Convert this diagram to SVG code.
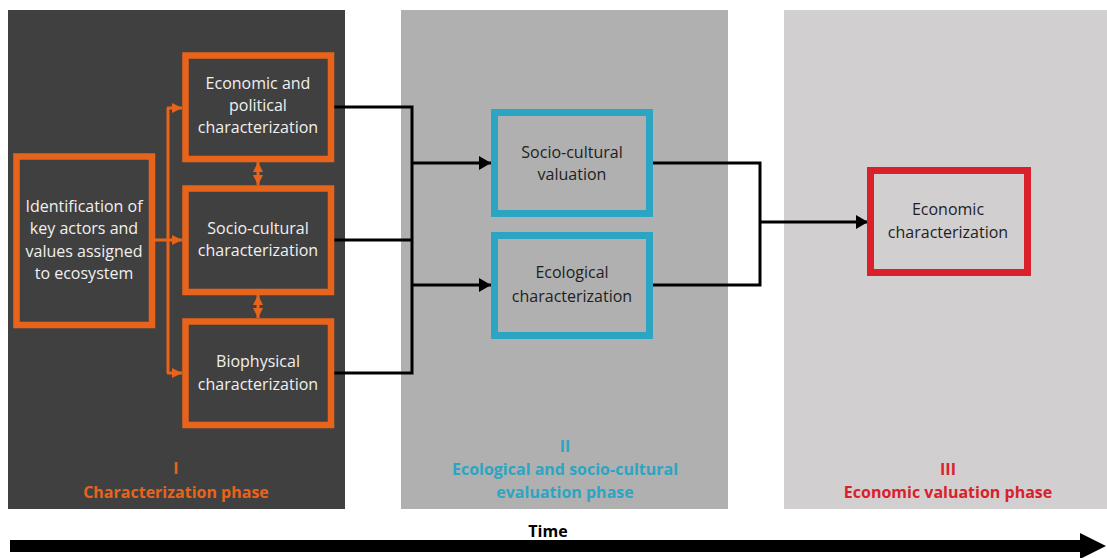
<svg xmlns="http://www.w3.org/2000/svg" width="1107" height="558" viewBox="0 0 1107 558">
  <defs>
    <style>
      .lbl { font-family: "Open Sans", "Liberation Sans", sans-serif; font-size: 16px; text-anchor: middle; }
      .light { fill: #f0f0f0; }
      .dark { fill: #1e1e1e; }
      .phase { font-family: "Open Sans", "Liberation Sans", sans-serif; font-size: 16px; font-weight: bold; text-anchor: middle; }
      .orange-box { fill: none; stroke: #E8641B; stroke-width: 6.5; }
      .blue-box { fill: none; stroke: #2CA5C3; stroke-width: 7; }
      .red-box { fill: none; stroke: #DA202B; stroke-width: 7; }
      .olink { fill: none; stroke: #E8641B; stroke-width: 3; }
      .blink { fill: none; stroke: #000; stroke-width: 3; }
    </style>
    <marker id="oarrow" viewBox="0 0 10 10" refX="10" refY="5" markerWidth="10" markerHeight="10" markerUnits="userSpaceOnUse" orient="auto-start-reverse">
      <path d="M0,0 L10,5 L0,10 z" fill="#E8641B"/>
    </marker>
    <marker id="barrow" viewBox="0 0 12 14" refX="12" refY="7" markerWidth="12" markerHeight="14" markerUnits="userSpaceOnUse" orient="auto">
      <path d="M0,0 L12,7 L0,14 z" fill="#000"/>
    </marker>
  </defs>

  <rect width="1107" height="558" fill="#ffffff"/>

  <!-- phase panels -->
  <g id="panels">
    <rect x="8" y="10" width="337" height="499" fill="#404040"/>
    <rect x="401" y="10" width="327" height="499" fill="#B0B0B0"/>
    <rect x="784" y="10" width="323" height="499" fill="#D1CFD0"/>
  </g>

  <!-- phase captions -->
  <g id="phase-labels">
    <text class="phase" x="176" y="474" fill="#E8641B">I</text>
    <text class="phase" x="176" y="498" fill="#E8641B">Characterization phase</text>
    <text class="phase" x="565" y="452" fill="#2CA5C3">II</text>
    <text class="phase" x="565" y="475" fill="#2CA5C3">Ecological and socio-cultural</text>
    <text class="phase" x="565" y="498" fill="#2CA5C3">evaluation phase</text>
    <text class="phase" x="948" y="475" fill="#DA202B">III</text>
    <text class="phase" x="948" y="498" fill="#DA202B">Economic valuation phase</text>
  </g>

  <!-- connectors -->
  <g id="connectors">
    <!-- identification fan-out -->
    <path class="olink" d="M155,240 H168"/>
    <path class="olink" d="M168,108 V373"/>
    <path class="olink" d="M167,108 H182" marker-end="url(#oarrow)"/>
    <path class="olink" d="M168,240 H182" marker-end="url(#oarrow)"/>
    <path class="olink" d="M167,373 H182" marker-end="url(#oarrow)"/>
    <!-- links between characterizations -->
    <path class="olink" d="M258,162 V185" marker-start="url(#oarrow)" marker-end="url(#oarrow)"/>
    <path class="olink" d="M258,295 V318" marker-start="url(#oarrow)" marker-end="url(#oarrow)"/>
    <!-- phase I to phase II -->
    <path class="blink" d="M334,107 H412 V373 H334"/>
    <path class="blink" d="M334,240 H412"/>
    <path class="blink" d="M412,163 H491" marker-end="url(#barrow)"/>
    <path class="blink" d="M412,285 H491" marker-end="url(#barrow)"/>
    <!-- phase II to phase III -->
    <path class="blink" d="M653,163 H760 V285 H653"/>
    <path class="blink" d="M760,222 H868" marker-end="url(#barrow)"/>
    <!-- time axis -->
    <path d="M10,540 H1080 V533 L1106,546 L1080,559 V552 H10 z" fill="#000"/>
  </g>

  <g id="node-identification">
    <rect class="orange-box" x="16.5" y="156.5" width="135.5" height="168.5"/>
    <text class="lbl light" x="84" y="212">Identification of</text>
    <text class="lbl light" x="84" y="234">key actors and</text>
    <text class="lbl light" x="84" y="257">values assigned</text>
    <text class="lbl light" x="84" y="279">to ecosystem</text>
  </g>

  <g id="node-economic-political">
    <rect class="orange-box" x="185.5" y="55.5" width="145.5" height="103.5"/>
    <text class="lbl light" x="258" y="89">Economic and</text>
    <text class="lbl light" x="258" y="111">political</text>
    <text class="lbl light" x="258" y="133">characterization</text>
  </g>

  <g id="node-sociocultural-char">
    <rect class="orange-box" x="185.5" y="188.5" width="145.5" height="103.5"/>
    <text class="lbl light" x="258" y="234">Socio-cultural</text>
    <text class="lbl light" x="258" y="256">characterization</text>
  </g>

  <g id="node-biophysical">
    <rect class="orange-box" x="185.5" y="321.5" width="145.5" height="103.5"/>
    <text class="lbl light" x="258" y="367">Biophysical</text>
    <text class="lbl light" x="258" y="390">characterization</text>
  </g>

  <g id="node-sociocultural-valuation">
    <rect class="blue-box" x="494.5" y="112.5" width="155" height="101"/>
    <text class="lbl dark" x="572" y="158">Socio-cultural</text>
    <text class="lbl dark" x="572" y="180">valuation</text>
  </g>

  <g id="node-ecological">
    <rect class="blue-box" x="494.5" y="235.5" width="155" height="100"/>
    <text class="lbl dark" x="572" y="278">Ecological</text>
    <text class="lbl dark" x="572" y="302">characterization</text>
  </g>

  <g id="node-economic">
    <rect class="red-box" x="870.5" y="170.5" width="157" height="102"/>
    <text class="lbl dark" x="948" y="215">Economic</text>
    <text class="lbl dark" x="948" y="238">characterization</text>
  </g>

  <g id="time-label">
    <text x="548" y="537" font-family="Open Sans, Liberation Sans, sans-serif" font-size="16" font-weight="bold" text-anchor="middle" fill="#000">Time</text>
  </g>
</svg>
